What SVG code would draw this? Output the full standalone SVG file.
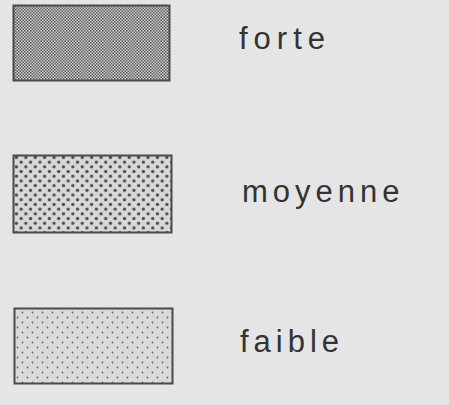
<svg xmlns="http://www.w3.org/2000/svg" width="449" height="405" viewBox="0 0 449 405">
<defs>
<style>
.box{stroke:#4a4a4a;stroke-width:2}
.lbl{font-family:"Liberation Sans",Arial,sans-serif;font-size:31px;fill:#333}
</style>
<pattern id="pForte" width="3" height="3" patternUnits="userSpaceOnUse">
<rect width="3" height="3" fill="#cacaca"/>
<rect x="0" y="0" width="1.5" height="1.5" fill="#606060"/>
<rect x="1.5" y="1.5" width="1.5" height="1.5" fill="#606060"/>
</pattern>
<pattern id="pMoy" width="9.4" height="9.4" patternUnits="userSpaceOnUse">
<rect width="9.4" height="9.4" fill="#d8d8d8"/>
<circle cx="2.35" cy="2.35" r="1.7" fill="#4e4e4e"/>
<circle cx="7.05" cy="7.05" r="1.7" fill="#4e4e4e"/>
</pattern>
<pattern id="pFaible" width="10" height="10" patternUnits="userSpaceOnUse">
<rect width="10" height="10" fill="#dadada"/>
<circle cx="2.5" cy="2.5" r="0.9" fill="#666"/>
<circle cx="7.5" cy="7.5" r="0.9" fill="#666"/>
</pattern>
</defs>
<rect width="449" height="405" fill="#e5e5e5"/>
<g id="forte">
<rect class="box" x="13.5" y="5.5" width="156" height="75" fill="url(#pForte)"/>
<text class="lbl" x="239" y="49" letter-spacing="6">forte</text>
</g>
<g id="moyenne">
<rect class="box" x="13.5" y="155.5" width="158" height="77" fill="url(#pMoy)"/>
<text class="lbl" x="242" y="202" letter-spacing="5">moyenne</text>
</g>
<g id="faible">
<rect class="box" x="14.5" y="308.5" width="158" height="75" fill="url(#pFaible)"/>
<text class="lbl" x="240" y="352" letter-spacing="5">faible</text>
</g>
<g id="connectors"/>
</svg>
